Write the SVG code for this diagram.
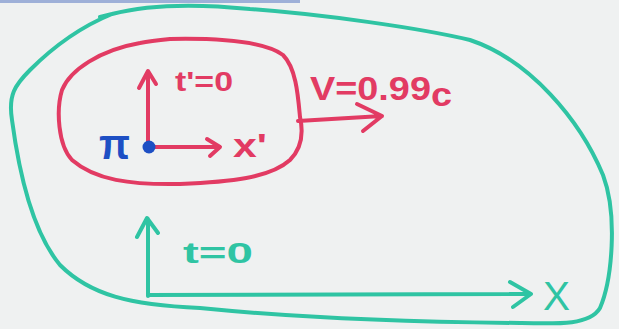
<svg xmlns="http://www.w3.org/2000/svg" width="619" height="329" viewBox="0 0 619 329">
<style>
.teal{fill:none;stroke:#2fc4a3;stroke-width:4;stroke-linecap:round;stroke-linejoin:round}
.red{fill:none;stroke:#e23b63;stroke-width:4;stroke-linecap:round;stroke-linejoin:round}
.lbl{font-family:"Liberation Sans",Arial,sans-serif;font-weight:bold}
.tl{fill:#2fc4a3}
.rl{fill:#e23b63}
.bl{fill:#1d4fc4}
</style>
<rect x="0" y="0" width="619" height="329" fill="#eff1f1"/>
<rect x="0" y="0" width="300" height="3" fill="#9eb0d8"/>
<g id="frame-S">
<path class="teal" d="M112,14 C150,4 200,4 250,9 C320,14 420,28 470,40 C530,60 580,120 603,175 C618,215 612,280 600,308 C590,325 560,324 520,323 C420,322 300,318 200,308 C130,305 90,295 60,265 C35,235 20,180 12,120 C8,95 15,85 30,70 C55,45 85,25 112,14 M100,17 L112,14"/>
<text class="lbl tl" x="183" y="263" font-size="30" textLength="70" lengthAdjust="spacingAndGlyphs">t=0</text>
<text class="tl" x="543" y="310" font-size="40" font-family="Liberation Sans, Arial, sans-serif" textLength="27" lengthAdjust="spacingAndGlyphs">X</text>
</g>
<g id="frame-S-prime">
<path class="red" d="M170,39 C220,38 265,42 283,55 C296,68 298,95 300,117 C304,135 300,150 290,160 C270,178 230,182 180,184 C130,185 95,180 72,160 C58,145 56,110 62,90 C70,70 100,50 140,43 C150,41 160,40 170,39 Z"/>
<text class="lbl rl" x="175" y="91" font-size="28" textLength="58" lengthAdjust="spacingAndGlyphs">t'=0</text>
<text class="lbl rl" x="233" y="157" font-size="34" textLength="34" lengthAdjust="spacingAndGlyphs">x'</text>
<text class="lbl rl" x="310" y="100" font-size="34" textLength="142" lengthAdjust="spacingAndGlyphs">V=0.99<tspan dy="6">c</tspan></text>
</g>
<g id="connectors">
<path class="red" d="M148,147 L148,72 M139,88 L148,71 L156,84"/>
<path class="red" d="M152,147 L219,147 M207,139 L220,147 L210,156"/>
<path class="red" stroke-width="5" d="M298,121 L382,116 M357,104 L382,116 L363,131"/>
<path class="teal" d="M148,296 L148,219 M137,237 L147,218 L158,233"/>
<path class="teal" d="M148,295 L530,294 M510,282 L531,294 L513,307"/>
</g>
<g id="pion">
<text class="lbl bl" x="99" y="159" font-size="42" textLength="31" lengthAdjust="spacingAndGlyphs">π</text>
<circle cx="149" cy="147" r="6.5" class="bl"/>
</g>
</svg>
